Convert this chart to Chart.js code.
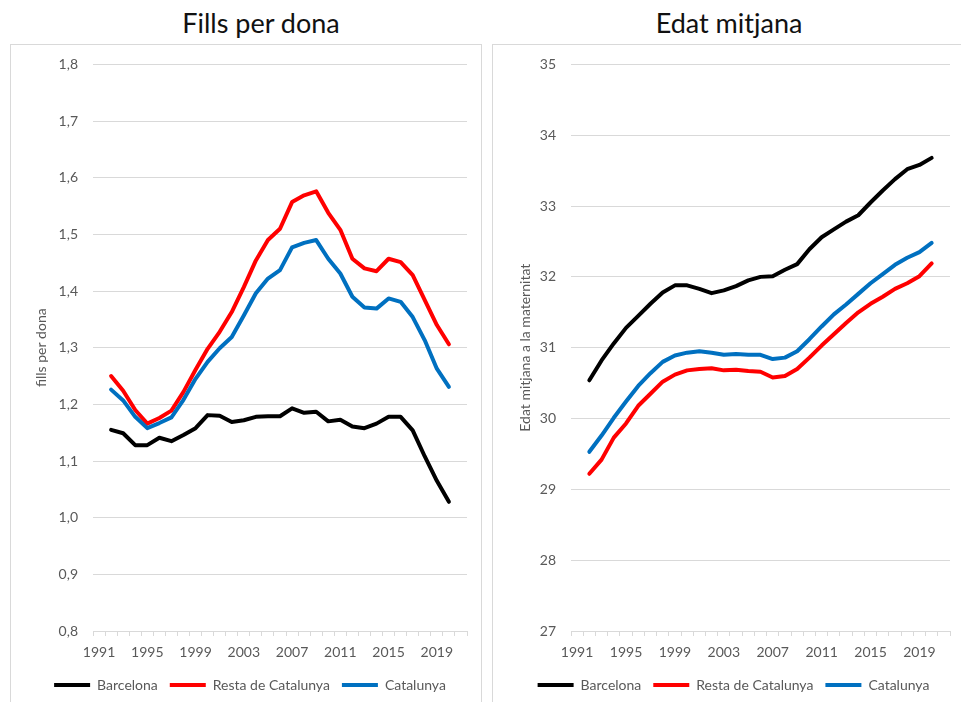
<!DOCTYPE html>
<html>
<head>
<meta charset="utf-8">
<script src="https://cdn.jsdelivr.net/npm/chart.js@4"></script>
<style>
  body { margin:0; background:#fff; width:961px; height:702px; overflow:hidden; position:relative; font-family:Lato, sans-serif; }
  .ttl { position:absolute; top:6px; font-size:27px; font-weight:400; color:#111; white-space:nowrap; transform:translateX(-50%); }
  .box { position:absolute; top:44px; height:680px; border:1px solid #d9d9d9; }
  canvas { position:absolute; left:0; top:-4px; }
</style>
</head>
<body>
<div class="ttl" style="left:261px">Fills per dona</div>
<div class="ttl" style="left:729px">Edat mitjana</div>
<div class="box" style="left:10px;width:470px"><canvas id="fills" width="470" height="661"></canvas></div>
<div class="box" style="left:492px;width:470px"><canvas id="edat" width="470" height="661"></canvas></div>
<script>
const years = [1991,1992,1993,1994,1995,1996,1997,1998,1999,2000,2001,2002,2003,2004,2005,2006,2007,2008,2009,2010,2011,2012,2013,2014,2015,2016,2017,2018,2019,2020,2021];
const series = ['Barcelona','Resta de Catalunya','Catalunya'];

const bcnFills = [null,1.155,1.149,1.128,1.128,1.141,1.135,1.146,1.158,1.181,1.180,1.169,1.172,1.178,1.179,1.179,1.193,1.185,1.187,1.170,1.173,1.161,1.158,1.166,1.178,1.178,1.154,1.108,1.065,1.028,null];
const restaFills = [null,1.250,1.224,1.190,1.166,1.176,1.189,1.222,1.261,1.298,1.328,1.363,1.407,1.454,1.490,1.510,1.557,1.569,1.576,1.538,1.508,1.457,1.440,1.435,1.457,1.451,1.428,1.384,1.340,1.306,null];
const catFills = [null,1.226,1.207,1.178,1.158,1.167,1.177,1.208,1.245,1.275,1.299,1.319,1.357,1.396,1.422,1.437,1.477,1.485,1.490,1.457,1.431,1.390,1.371,1.369,1.387,1.381,1.354,1.313,1.263,1.231,null];

const bcnEdat = [null,30.54,30.82,31.06,31.28,31.45,31.62,31.78,31.88,31.88,31.83,31.77,31.81,31.87,31.95,32.00,32.01,32.10,32.18,32.39,32.56,32.67,32.78,32.87,33.05,33.22,33.38,33.52,33.58,33.68,null];
const restaEdat = [null,29.22,29.42,29.73,29.93,30.18,30.35,30.52,30.62,30.68,30.70,30.71,30.68,30.69,30.67,30.66,30.58,30.60,30.70,30.86,31.03,31.19,31.35,31.50,31.62,31.72,31.83,31.91,32.01,32.19,null];
const catEdat = [null,29.53,29.76,30.01,30.24,30.46,30.64,30.80,30.89,30.93,30.95,30.93,30.90,30.91,30.90,30.90,30.84,30.86,30.95,31.12,31.30,31.47,31.61,31.76,31.91,32.04,32.17,32.27,32.35,32.48,null];

const fillsTicks = [0.8,0.9,1.0,1.1,1.2,1.3,1.4,1.5,1.6,1.7,1.8];
const edatTicks = [27,28,29,30,31,32,33,34,35];

const colors = ['#000000','#ff0000','#0070c0'];
const grey = '#595959', gridC = '#d9d9d9';
const font = { family:'Lato', size:14 };

function mkDatasets(arrs) {
  return arrs.map((d,i) => ({
    label: series[i], data: d, borderColor: colors[i], backgroundColor: colors[i],
    borderWidth: 4, pointRadius: 0, tension: 0, borderJoinStyle: 'round', borderCapStyle: 'round',
    order: 2 - i
  }));
}

function mkChart(id, arrs, ticks, yTitle, fmt, pad, yW) {
  new Chart(document.getElementById(id), {
    type: 'line',
    data: { labels: years, datasets: mkDatasets(arrs) },
    options: {
      responsive: false, animation: false,
      layout: { padding: { left: pad.left, right: pad.right, top: 0, bottom: 0 } },
      plugins: {
        tooltip: { enabled: false },
        legend: {
          position: 'bottom',
          labels: {
            boxWidth: 36, boxHeight: 4, padding: 12, color: grey, font,
            sort: (a,b) => a.datasetIndex - b.datasetIndex,
            generateLabels: ch => Chart.defaults.plugins.legend.labels.generateLabels(ch).map(l => ({ ...l, lineWidth: 0 }))
          }
        }
      },
      scales: {
        x: {
          offset: true,
          grid: { offset: true, drawOnChartArea: false, tickLength: 5, color: gridC },
          border: { color: gridC },
          ticks: {
            autoSkip: false, maxRotation: 0, padding: 8, color: grey, font,
            callback: (v, i) => (years[i] - 1991) % 4 === 0 ? String(years[i]) : ''
          },
          afterFit: s => { s.height = 35; }
        },
        y: {
          min: ticks[0], max: ticks[ticks.length-1],
          afterBuildTicks: s => { s.ticks = ticks.map(v => ({ value: v })); },
          grid: { color: gridC, drawTicks: false, lineWidth: 1 },
          border: { display: false },
          ticks: { padding: 15, color: grey, font, callback: fmt },
          title: { display: true, text: yTitle, color: grey, font, padding: { top: 0, bottom: 4 } },
          afterFit: s => { s.width = yW; }
        }
      }
    }
  });
}

mkChart('fills', [bcnFills, restaFills, catFills], fillsTicks, 'fills per dona',
  v => v.toFixed(1).replace('.', ','), { left: 22, right: 14 }, 60);
mkChart('edat', [bcnEdat, restaEdat, catEdat], edatTicks, 'Edat mitjana a la maternitat',
  v => String(v), { left: 24, right: 13 }, 54);
</script>
</body>
</html>
